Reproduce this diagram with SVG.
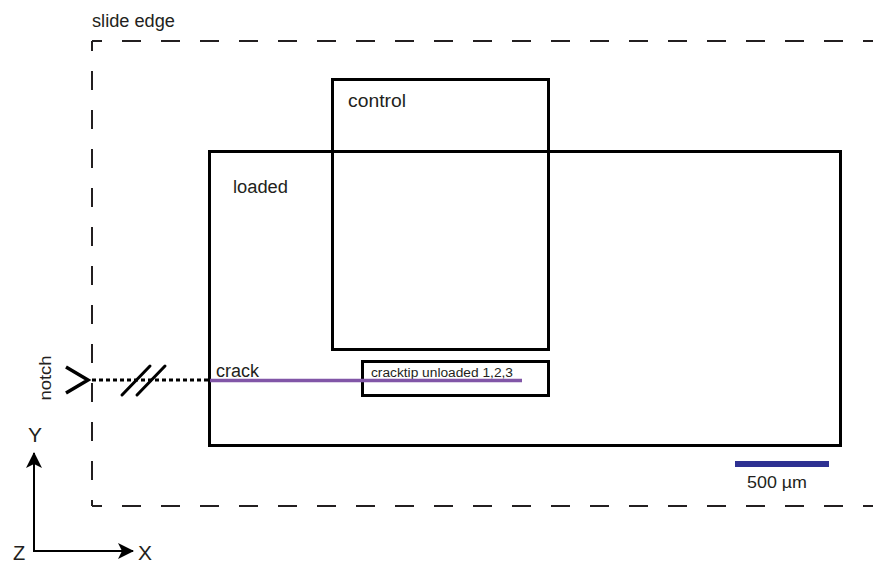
<svg xmlns="http://www.w3.org/2000/svg" width="873" height="565" viewBox="0 0 873 565">
<defs>
<style>
text{font-family:"Liberation Sans",Arial,sans-serif;fill:#231f20}
.box{fill:none;stroke:#000;stroke-width:3}
.dash{fill:none;stroke:#231f20;stroke-width:2;stroke-dasharray:19 20;stroke-dashoffset:9}
.ax{fill:none;stroke:#000;stroke-width:2}
</style>
<marker id="ahb" viewBox="0 0 16 16" refX="15" refY="8" markerWidth="16" markerHeight="16" markerUnits="userSpaceOnUse" orient="auto"><path d="M0,0 L16,8 L0,16 L4,8 Z" fill="#000"/></marker>
</defs>
<rect width="873" height="565" fill="#fff"/>
<g id="slide-edge">
<path class="dash" d="M92,41 H890"/>
<path class="dash" d="M92,41 V506"/>
<path class="dash" d="M92,506 H890"/>
<text x="92" y="27" font-size="18" textLength="83" lengthAdjust="spacingAndGlyphs">slide edge</text>
</g>
<g id="control">
<rect class="box" x="332.5" y="79.5" width="216" height="270"/>
<text x="348" y="107" font-size="18" textLength="58" lengthAdjust="spacingAndGlyphs">control</text>
</g>
<g id="loaded">
<rect class="box" x="209.5" y="151.5" width="631" height="294"/>
<text x="233" y="193" font-size="18" textLength="55" lengthAdjust="spacingAndGlyphs">loaded</text>
</g>
<g id="cracktip">
<rect class="box" x="362.5" y="361.5" width="186" height="34"/>
<text x="371" y="377" font-size="12.5" textLength="142" lengthAdjust="spacingAndGlyphs">cracktip unloaded 1,2,3</text>
</g>
<g id="notch">
<path d="M66,367 L88,380 L66,393" fill="none" stroke="#000" stroke-width="3.5" stroke-linejoin="miter"/>
<text transform="translate(51,378) rotate(-90)" font-size="17" text-anchor="middle" textLength="45" lengthAdjust="spacingAndGlyphs">notch</text>
</g>
<g id="crack">
<text x="216" y="377" font-size="18" textLength="43" lengthAdjust="spacingAndGlyphs">crack</text>
</g>
<g id="scale-bar">
<rect x="735" y="461" width="94" height="6" fill="#2e3192"/>
<text x="747" y="488" font-size="16" textLength="60" lengthAdjust="spacingAndGlyphs">500 µm</text>
</g>
<g id="axes">
<text x="35" y="442" font-size="21" text-anchor="middle">Y</text>
<text x="145" y="560" font-size="21" text-anchor="middle">X</text>
<text x="19" y="560" font-size="20" text-anchor="middle">Z</text>
</g>
<g id="connectors">
<path d="M92,380 H208" fill="none" stroke="#000" stroke-width="3" stroke-dasharray="4 3"/>
<path d="M122,395 L150,366 M137,395 L165,366" stroke="#000" stroke-width="3" stroke-linecap="round"/>
<path d="M210,380.5 H522" stroke="#8156a7" stroke-width="3.5"/>
<path class="ax" d="M34,551 V453" marker-end="url(#ahb)"/>
<path class="ax" d="M33,551 H133" marker-end="url(#ahb)"/>
</g>
</svg>
